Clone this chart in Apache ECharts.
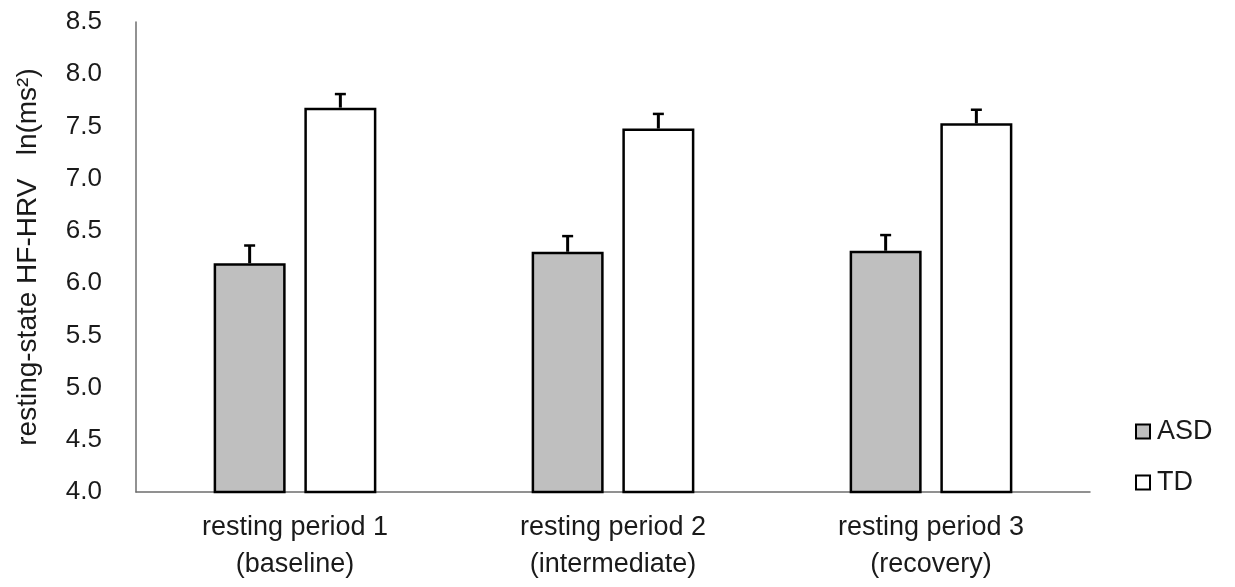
<!DOCTYPE html>
<html>
<head>
<meta charset="utf-8">
<script src="https://cdn.jsdelivr.net/npm/echarts@6/dist/echarts.min.js"></script>
<style>html,body{margin:0;padding:0;background:#fff;}#c{width:1235px;height:587px;}</style>
</head>
<body>
<div id="c"></div>
<script>
const categories = ['resting period 1\n(baseline)', 'resting period 2\n(intermediate)', 'resting period 3\n(recovery)'];
const asdValues = [6.19, 6.30, 6.31];
const asdErrors = [0.17, 0.15, 0.15];
const tdValues = [7.68, 7.48, 7.53];
const tdErrors = [0.13, 0.14, 0.13];
const yTicks = [4.0, 4.5, 5.0, 5.5, 6.0, 6.5, 7.0, 7.5, 8.0, 8.5];

const chart = echarts.init(document.getElementById('c'));
const font = 'Liberation Sans, Arial, sans-serif';
const BAR_W = 72;
const GAP_RATIO = 0.26;

function errorSeries(values, errors, slot) {
  return {
    type: 'custom',
    z: 5,
    silent: true,
    data: values.map((v, i) => [i, v, v + errors[i]]),
    renderItem: function (params, api) {
      const idx = api.value(0);
      const base = api.coord([idx, api.value(1)]);
      const top = api.coord([idx, api.value(2)]);
      const gapPx = BAR_W * GAP_RATIO;
      const total = BAR_W * 2 + gapPx;
      const x = base[0] - total / 2 + BAR_W / 2 + slot * (BAR_W + gapPx);
      const cap = 5.5;
      return {
        type: 'group',
        children: [
          { type: 'line', shape: { x1: x, y1: base[1], x2: x, y2: top[1] }, style: { stroke: '#000', lineWidth: 3 } },
          { type: 'line', shape: { x1: x - cap, y1: top[1], x2: x + cap, y2: top[1] }, style: { stroke: '#000', lineWidth: 2.5 } }
        ]
      };
    }
  };
}

chart.setOption({
  animation: false,
  backgroundColor: '#fff',
  textStyle: { fontFamily: font },
  grid: { left: 136, right: 145, top: 22, bottom: 95 },
  legend: {
    orient: 'vertical',
    left: 1130,
    top: 413,
    itemWidth: 14,
    itemHeight: 14,
    itemGap: 24,
    icon: 'rect',
    itemStyle: { borderWidth: 2 },
    textStyle: { fontSize: 27, lineHeight: 26, color: '#1a1a1a', fontFamily: font, padding: [0, 0, 0, 2] },
    data: ['ASD', 'TD']
  },
  xAxis: {
    type: 'category',
    data: categories,
    axisLine: { lineStyle: { color: '#6e6e6e', width: 1.5 } },
    axisTick: { show: false },
    axisLabel: { fontSize: 27, color: '#1a1a1a', lineHeight: 37, margin: 17, fontFamily: font }
  },
  yAxis: {
    type: 'value',
    min: 4.0,
    max: 8.5,
    interval: 0.5,
    name: 'resting-state HF-HRV   ln(ms²)',
    nameLocation: 'middle',
    nameGap: 94,
    nameRotate: 90,
    nameTextStyle: { fontSize: 28, color: '#1a1a1a', fontFamily: font },
    splitLine: { show: false },
    axisLine: { show: true, lineStyle: { color: '#6e6e6e', width: 1.5 } },
    axisTick: { show: false },
    axisLabel: {
      fontSize: 26, color: '#1a1a1a', margin: 34, fontFamily: font,
      formatter: v => yTicks.includes(Math.round(v * 10) / 10) ? v.toFixed(1) : ''
    }
  },
  series: [
    {
      name: 'ASD', type: 'bar', data: asdValues, barWidth: BAR_W, barGap: (GAP_RATIO * 100) + '%',
      itemStyle: { color: '#bfbfbf', borderColor: '#000', borderWidth: 2.5 }
    },
    {
      name: 'TD', type: 'bar', data: tdValues, barWidth: BAR_W, barGap: (GAP_RATIO * 100) + '%',
      itemStyle: { color: '#ffffff', borderColor: '#000', borderWidth: 2.5 }
    },
    errorSeries(asdValues, asdErrors, 0),
    errorSeries(tdValues, tdErrors, 1)
  ]
});
</script>
</body>
</html>
